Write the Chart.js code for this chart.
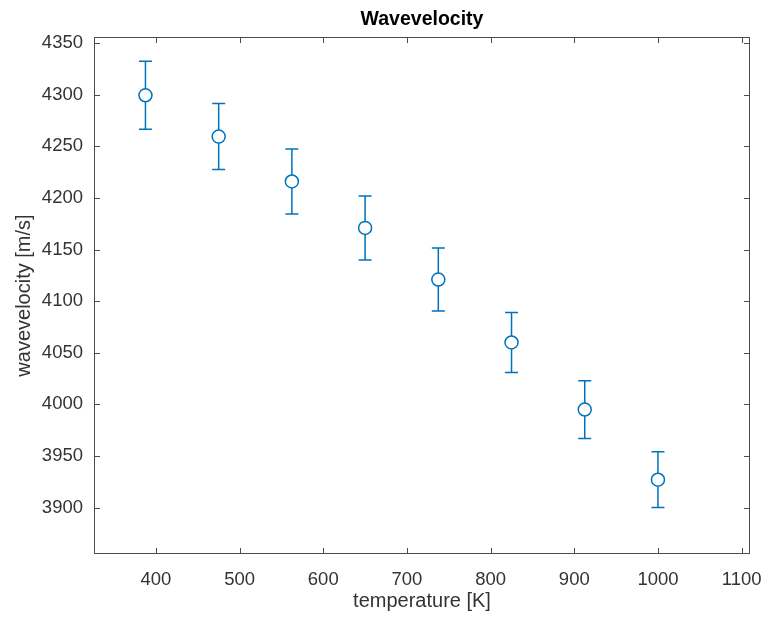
<!DOCTYPE html>
<html>
<head>
<meta charset="utf-8">
<script src="https://cdn.jsdelivr.net/npm/chart.js@4"></script>
<style>
  html, body { margin: 0; padding: 0; background: #fff; }
  #wrap { width: 768px; height: 626px; }
</style>
</head>
<body>
<div id="wrap"><canvas id="waveChart"></canvas></div>
<script>
// measured values (temperature in K, wave velocity in m/s)
const temps = [387.5, 475, 562.5, 650, 737.5, 825, 912.5, 1000];
const velocity = [4299.5, 4259.5, 4216, 4171, 4121, 4060, 3995, 3927];
const errors = [33, 32, 31.5, 31, 30.5, 29, 28, 27];

const xTicks = [400, 500, 600, 700, 800, 900, 1000, 1100];
const yTicks = [3900, 3950, 4000, 4050, 4100, 4150, 4200, 4250, 4300, 4350];

let blue = "#0072BD"
let axisColor = "#4d4d4d"
let textColor = "#333333"
const fontFamily = "'Liberation Sans', Arial, sans-serif";

// vertical error bars with caps, drawn under the markers
const errorBars = {
  id: 'errorBars',
  beforeDatasetsDraw(chart) {
    const {ctx, scales: {x, y}} = chart;
    ctx.save();
    ctx.strokeStyle = blue;
    ctx.lineWidth = 1.5;
    for (let i = 0; i < temps.length; i++) {
      let px = x.getPixelForValue(temps[i]);
      let top = y.getPixelForValue(velocity[i] + errors[i]);
      let bot = y.getPixelForValue(velocity[i] - errors[i]);
      ctx.beginPath();
      ctx.moveTo(px, top); ctx.lineTo(px, bot);
      ctx.moveTo(px - 6.5, top); ctx.lineTo(px + 6.5, top);
      ctx.moveTo(px - 6.5, bot); ctx.lineTo(px + 6.5, bot);
      ctx.stroke();
    }
    ctx.restore();
  }
};

// box round the axes with inward ticks on every side, plus the title
const axesBox = {
  id: 'axesBox',
  afterDraw(chart) {
    const {ctx, chartArea: a, scales: {x, y}} = chart;
    ctx.save();
    ctx.strokeStyle = axisColor;
    ctx.lineWidth = 1;
    ctx.strokeRect(a.left + 0.5, a.top + 0.5, a.right - a.left - 1, a.bottom - a.top - 1);
    ctx.beginPath();
    xTicks.forEach(v => {
      let px = Math.round(x.getPixelForValue(v)) + 0.5;
      ctx.moveTo(px, a.bottom); ctx.lineTo(px, a.bottom - 6);
      ctx.moveTo(px, a.top); ctx.lineTo(px, a.top + 6);
    });
    yTicks.forEach(v => {
      let py = Math.round(y.getPixelForValue(v)) + 0.5;
      ctx.moveTo(a.left, py); ctx.lineTo(a.left + 6, py);
      ctx.moveTo(a.right, py); ctx.lineTo(a.right - 6, py);
    });
    ctx.stroke();

    ctx.fillStyle = "#000";
    ctx.font = "bold 19.5px " + fontFamily;
    ctx.textAlign = "center";
    ctx.textBaseline = "middle";
    ctx.fillText("Wavevelocity", (a.left + a.right) / 2, 20);
    ctx.restore();
  }
};

const waveChart = new Chart(document.getElementById('waveChart'), {
  type: 'scatter',
  data: {
    datasets: [{
      label: 'wavevelocity',
      data: temps.map((t, i) => ({x: t, y: velocity[i]})),
      showLine: false,
      pointStyle: 'circle',
      pointRadius: 6.5,
      pointHoverRadius: 6.5,
      borderWidth: 1.5,
      borderColor: blue,
      backgroundColor: '#ffffff'
    }]
  },
  options: {
    responsive: true,
    maintainAspectRatio: false,
    animation: false,
    layout: { padding: { top: 37, right: 18, left: 0, bottom: 0 } },
    plugins: {
      legend: { display: false },
      tooltip: { enabled: false },
      title: { display: false }
    },
    scales: {
      x: {
        type: 'linear',
        min: 326,
        max: 1110,
        afterBuildTicks: (scale) => { scale.ticks = xTicks.map(v => ({value: v})); },
        afterFit: (scale) => {
          scale.height = 72;
          scale.paddingLeft = 0;
          scale.paddingRight = 0;
        },
        grid: { display: false, drawTicks: false },
        border: { display: false },
        ticks: {
          padding: 15,
          color: textColor,
          font: { family: fontFamily, size: 18.5 },
          callback: (v) => String(v)
        },
        title: {
          display: true,
          text: 'temperature [K]',
          color: textColor,
          font: { family: fontFamily, size: 20 },
          padding: { top: 0, bottom: 13 }
        }
      },
      y: {
        type: 'linear',
        min: 3855,
        max: 4356,
        afterBuildTicks: (scale) => { scale.ticks = yTicks.map(v => ({value: v})); },
        afterFit: (scale) => {
          scale.width = 94;
          scale.paddingTop = 0;
          scale.paddingBottom = 0;
        },
        grid: { display: false, drawTicks: false },
        border: { display: false },
        ticks: {
          padding: 11,
          color: textColor,
          font: { family: fontFamily, size: 18.5 },
          callback: (v) => String(v)
        },
        title: {
          display: true,
          text: 'wavevelocity [m/s]',
          color: textColor,
          font: { family: fontFamily, size: 20 },
          padding: { top: 12, bottom: 0 }
        }
      }
    }
  },
  plugins: [errorBars, axesBox]
});
</script>
</body>
</html>
